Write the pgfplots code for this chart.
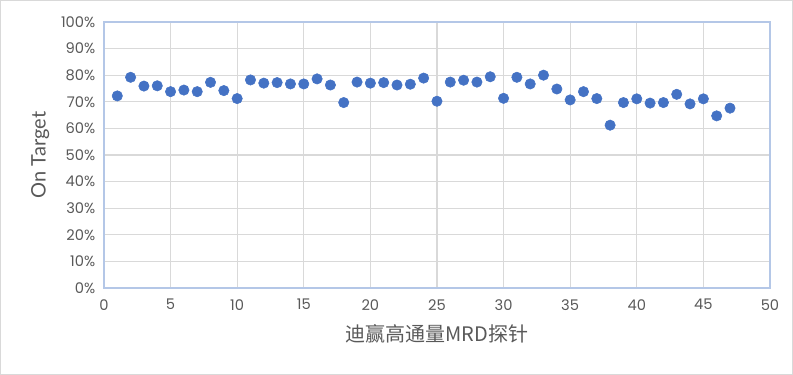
\documentclass[border=0pt]{standalone}
\usepackage{pgfplots}
\pgfplotsset{compat=1.18}
\usepackage{fontspec}
\setmainfont{Poppins}
\newfontfamily\cjk{Noto Sans CJK SC}
\newfontfamily\lab{Lato}
\definecolor{txt}{HTML}{595959}
\definecolor{pt}{HTML}{4472C4}
\definecolor{frame}{HTML}{B4C7E7}
\definecolor{grd}{HTML}{D9D9D9}
\definecolor{outer}{HTML}{D9D9D9}
\begin{document}
\begin{tikzpicture}
\begin{axis}[
  scale only axis,
  width=499.5pt, height=199.5pt,
  xmin=0, xmax=50, ymin=0, ymax=100,
  xtick={0,5,...,50}, ytick={0,10,...,100},
  yticklabels={0\%,10\%,20\%,30\%,40\%,50\%,60\%,70\%,80\%,90\%,100\%},
  /pgf/number format/assume math mode=true,
  tick style={draw=none},
  grid=major,
  major grid style={grd, line width=0.9pt},
  axis line style={frame, line width=0.9pt},
  ticklabel style={font=\fontsize{11}{13}\selectfont, text=txt},
  xticklabel style={yshift=-5pt},
  yticklabel style={xshift=-3pt},
  xlabel={\cjk 迪赢高通量MRD探针},
  ylabel={\lab On Target},
  label style={font=\fontsize{15}{17}\selectfont, text=txt},
  xlabel style={yshift=-4pt},
  ylabel style={yshift=2pt},
]
\addplot[only marks, mark=*, mark size=3.9pt, mark options={fill=pt, draw=pt}] coordinates {
(1,72.2) (2,79.2) (3,75.9) (4,76.0) (5,73.8) (6,74.4) (7,73.8) (8,77.3) (9,74.2) (10,71.2)
(11,78.2) (12,77.0) (13,77.2) (14,76.7) (15,76.7) (16,78.6) (17,76.3) (18,69.7) (19,77.4) (20,77.0)
(21,77.2) (22,76.3) (23,76.6) (24,78.9) (25,70.2) (26,77.4) (27,78.1) (28,77.4) (29,79.4) (30,71.3)
(31,79.2) (32,76.7) (33,80.0) (34,74.8) (35,70.7) (36,73.8) (37,71.2) (38,61.2) (39,69.7) (40,71.1)
(41,69.5) (42,69.7) (43,72.8) (44,69.2) (45,71.1) (46,64.7) (47,67.6)
};
\end{axis}
\draw[outer, line width=0.75pt] (-77.6pt,-64.9pt) rectangle (516.4pt,215.6pt);
\end{tikzpicture}
\end{document}
